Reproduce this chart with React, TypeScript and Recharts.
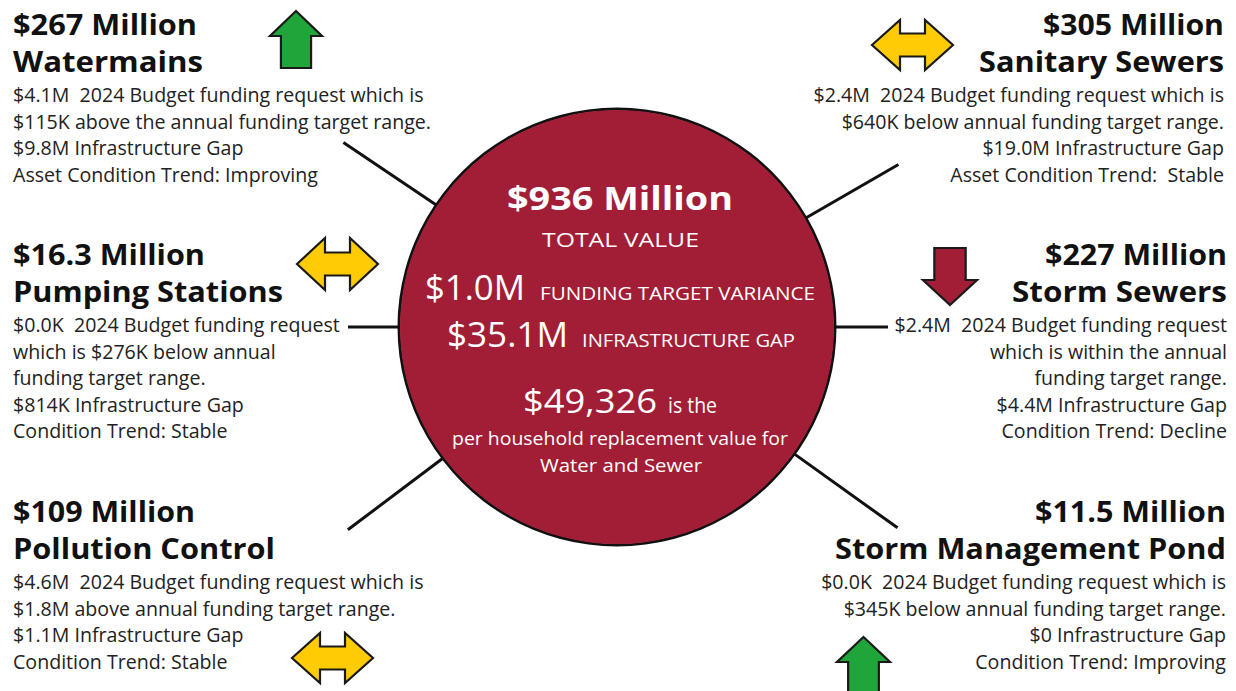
import React from 'react';
import { PieChart, Pie, Cell, Customized } from 'recharts';

// ---------- data ----------
const assetValues = ['$267 Million', '$305 Million', '$16.3 Million', '$227 Million', '$109 Million', '$11.5 Million'];
const assetNames = ['Watermains', 'Sanitary Sewers', 'Pumping Stations', 'Storm Sewers', 'Pollution Control', 'Storm Management Pond'];
const assetDetails = [
  ['$4.1M  2024 Budget funding request which is', '$115K above the annual funding target range.', '$9.8M Infrastructure Gap', 'Asset Condition Trend: Improving'],
  ['$2.4M  2024 Budget funding request which is', '$640K below annual funding target range.', '$19.0M Infrastructure Gap', 'Asset Condition Trend:  Stable'],
  ['$0.0K  2024 Budget funding request', 'which is $276K below annual', 'funding target range.', '$814K Infrastructure Gap', 'Condition Trend: Stable'],
  ['$2.4M  2024 Budget funding request', 'which is within the annual', 'funding target range.', '$4.4M Infrastructure Gap', 'Condition Trend: Decline'],
  ['$4.6M  2024 Budget funding request which is', '$1.8M above annual funding target range.', '$1.1M Infrastructure Gap', 'Condition Trend: Stable'],
  ['$0.0K  2024 Budget funding request which is', '$345K below annual funding target range.', '$0 Infrastructure Gap', 'Condition Trend: Improving'],
];
const assetTrends = ['up', 'flat', 'flat', 'down', 'flat', 'up'];
const totalData = [{ name: 'Total Value', value: 936 }];
const totalLabel = ['$936 Million', 'TOTAL VALUE'];
const varianceLabel = ['$1.0M', 'FUNDING TARGET VARIANCE'];
const gapLabel = ['$35.1M', 'INFRASTRUCTURE GAP'];
const householdLabel = ['$49,326', 'is the', 'per household replacement value for', 'Water and Sewer'];

// ---------- layout / style ----------
const W = 1236;
const H = 691;
const CX = 617;
const CY = 327;
const R = 218;
const FONT = '"Open Sans", Lato, sans-serif';
const CRIMSON = '#A21E36';
const GREEN = '#1FA53A';
const YELLOW = '#FFCB05';

const blockPos = [
  { x: 13, y: 35, anchor: 'start' },
  { x: 1224, y: 35, anchor: 'end' },
  { x: 13, y: 265, anchor: 'start' },
  { x: 1227, y: 265, anchor: 'end' },
  { x: 13, y: 522, anchor: 'start' },
  { x: 1226, y: 522, anchor: 'end' },
];
// measured widths of the two heading lines of each block
const headingWidths = [
  [184, 190],
  [181, 245],
  [192, 270],
  [182, 215],
  [182, 262],
  [191, 391],
];
// connector: angle in degrees (math convention), outer distance from centre
const connectorPos = [
  { a: 146, d: 330 },
  { a: 30, d: 325 },
  { a: 180, d: 269 },
  { a: 0, d: 271 },
  { a: 217, d: 337 },
  { a: 324.4, d: 345 },
];
// arrow boxes
const arrowPos = [
  { x: 270, y: 11, w: 52, h: 57 },
  { x: 872, y: 20, w: 81, h: 50 },
  { x: 297, y: 238, w: 81, h: 52 },
  { x: 923, y: 248, w: 54, h: 57 },
  { x: 292, y: 633, w: 81, h: 50 },
  { x: 837, y: 637, w: 53, h: 60 },
];

function arrowPoints(kind: string, b: { x: number; y: number; w: number; h: number }) {
  const { x, y, w, h } = b;
  if (kind === 'up' || kind === 'down') {
    const sw = w * 0.58;
    const hh = 25;
    const cx = x + w / 2;
    const pts = [
      [0, 0],
      [w / 2, hh],
      [sw / 2, hh],
      [sw / 2, h],
      [-sw / 2, h],
      [-sw / 2, hh],
      [-w / 2, hh],
    ];
    return pts
      .map((p) => {
        const px = cx + p[0];
        const py = kind === 'up' ? y + p[1] : y + h - p[1];
        return `${px},${py}`;
      })
      .join(' ');
  }
  const cy = y + h / 2;
  const hl = 28;
  const sh = 23;
  const pts = [
    [x, cy],
    [x + hl, y],
    [x + hl, cy - sh / 2],
    [x + w - hl, cy - sh / 2],
    [x + w - hl, y],
    [x + w, cy],
    [x + w - hl, y + h],
    [x + w - hl, cy + sh / 2],
    [x + hl, cy + sh / 2],
    [x + hl, y + h],
  ];
  return pts.map((p) => `${p[0]},${p[1]}`).join(' ');
}

const Overlay = () => {
  return (
    <g>
      {connectorPos.map((c, i) => {
        const rad = (c.a * Math.PI) / 180;
        const x1 = CX + R * Math.cos(rad);
        const y1 = CY - R * Math.sin(rad);
        const x2 = CX + c.d * Math.cos(rad);
        const y2 = CY - c.d * Math.sin(rad);
        return <line key={'c' + i} x1={x1} y1={y1} x2={x2} y2={y2} stroke="#111" strokeWidth={3} />;
      })}
      {assetTrends.map((t, i) => {
        const fill = t === 'up' ? GREEN : t === 'down' ? CRIMSON : YELLOW;
        return (
          <polygon
            key={'a' + i}
            points={arrowPoints(t, arrowPos[i])}
            fill={fill}
            stroke="#1a1a1a"
            strokeWidth={2.2}
          />
        );
      })}
      {assetNames.map((n, i) => {
        const p = blockPos[i];
        return (
          <g key={'b' + i} fontFamily={FONT} textAnchor={p.anchor as any}>
            <text
              x={p.x}
              y={p.y}
              fontSize={28}
              fontWeight={700}
              fill="#111"
              textLength={headingWidths[i][0]}
              lengthAdjust="spacingAndGlyphs"
            >
              {assetValues[i]}
            </text>
            <text
              x={p.x}
              y={p.y + 37}
              fontSize={28}
              fontWeight={700}
              fill="#111"
              textLength={headingWidths[i][1]}
              lengthAdjust="spacingAndGlyphs"
            >
              {n}
            </text>
            {assetDetails[i].map((l, j) => (
              <text
                key={j}
                x={p.x}
                y={p.y + 67 + j * 26.5}
                fontSize={19.6}
                fill="#222"
                style={{ whiteSpace: 'pre' }}
              >
                {l}
              </text>
            ))}
          </g>
        );
      })}
    </g>
  );
};

const renderCentre = () => {
  const white = '#ffffff';
  return (
    <g fontFamily={FONT} fill={white}>
      <text x={507} y={210} fontSize={33} fontWeight={700} textLength={226} lengthAdjust="spacingAndGlyphs" fill={white}>
        {totalLabel[0]}
      </text>
      <text x={542} y={247} fontSize={20} textLength={157} lengthAdjust="spacingAndGlyphs" fill={white}>
        {totalLabel[1]}
      </text>
      <text x={425} y={300} fontSize={34} textLength={100} lengthAdjust="spacingAndGlyphs" fill={white}>
        {varianceLabel[0]}
      </text>
      <text x={540} y={300} fontSize={19} textLength={275} lengthAdjust="spacingAndGlyphs" fill={white}>
        {varianceLabel[1]}
      </text>
      <text x={447} y={347} fontSize={34} textLength={121} lengthAdjust="spacingAndGlyphs" fill={white}>
        {gapLabel[0]}
      </text>
      <text x={582} y={347} fontSize={19} textLength={213} lengthAdjust="spacingAndGlyphs" fill={white}>
        {gapLabel[1]}
      </text>
      <text x={523} y={413} fontSize={33} textLength={134} lengthAdjust="spacingAndGlyphs" fill={white}>
        {householdLabel[0]}
      </text>
      <text x={668} y={413} fontSize={21} textLength={49} lengthAdjust="spacingAndGlyphs" fill={white}>
        {householdLabel[1]}
      </text>
      <text x={452} y={445} fontSize={19} textLength={336} lengthAdjust="spacingAndGlyphs" fill={white}>
        {householdLabel[2]}
      </text>
      <text x={540} y={472} fontSize={19} textLength={162} lengthAdjust="spacingAndGlyphs" fill={white}>
        {householdLabel[3]}
      </text>
    </g>
  );
};

export default function App() {
  return (
    <div style={{ position: 'absolute', left: 0, top: 0, width: W, height: H, background: '#fff' }}>
      <PieChart width={W} height={H} margin={{ top: 0, right: 0, bottom: 0, left: 0 }}>
        <Pie
          data={totalData}
          dataKey="value"
          nameKey="name"
          cx={CX}
          cy={CY}
          innerRadius={R - 1.5}
          outerRadius={R + 1.5}
          startAngle={90}
          endAngle={-270}
          stroke="none"
          isAnimationActive={false}
        >
          <Cell fill="#111" />
        </Pie>
        <Pie
          data={totalData}
          dataKey="value"
          nameKey="name"
          cx={CX}
          cy={CY}
          outerRadius={R - 1}
          startAngle={90}
          endAngle={-270}
          stroke="none"
          isAnimationActive={false}
          label={renderCentre}
          labelLine={false}
        >
          <Cell fill={CRIMSON} />
        </Pie>
        <Customized component={Overlay} />
      </PieChart>
    </div>
  );
}
